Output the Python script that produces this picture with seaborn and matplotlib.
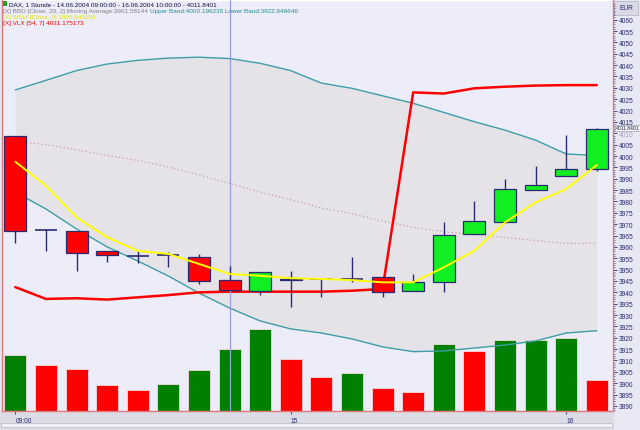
import numpy as np
import pandas as pd
import matplotlib
matplotlib.use("Agg")
import matplotlib.pyplot as plt
import seaborn as sns
from matplotlib.patches import Rectangle

# ---------------- data ----------------
idx = list(range(20))
opens = [4008.7, 3967.3, 3966.9, 3958.1, 3956.0, 3956.4, 3955.7, 3945.3, 3940.7, 3946.0,
         3945.9, 3945.9, 3946.6, 3940.5, 3944.7, 3965.5, 3971.0, 3985.2, 3991.1, 3994.2]
closes = [3966.9, 3967.5, 3957.3, 3956.3, 3956.0, 3956.4, 3944.9, 3940.9, 3948.8, 3945.6,
          3945.9, 3946.0, 3940.3, 3944.4, 3965.4, 3971.3, 3985.5, 3987.4, 3994.3, 4011.8]
highs = [4008.7, 3967.9, 3966.9, 3958.1, 3958.1, 3957.9, 3956.8, 3951.7, 3948.8, 3949.5,
         3946.0, 3955.7, 3946.6, 3948.1, 3971.1, 3980.2, 3989.8, 3995.6, 4009.3, 4012.5]
lows = [3961.6, 3958.1, 3949.5, 3953.2, 3952.9, 3951.3, 3943.8, 3940.9, 3939.0, 3933.4,
        3938.1, 3944.4, 3937.8, 3940.5, 3940.3, 3965.5, 3970.5, 3985.2, 3991.1, 3993.4]

upper_band = [4029.1, 4033.3, 4037.6, 4040.5, 4042.1, 4043.1, 4043.5, 4042.9, 4040.8, 4037.6,
              4032.1, 4029.8, 4026.5, 4023.2, 4019.2, 4015.1, 4011.4, 4007.0, 4000.9, 4000.2]
lower_band = [3984.1, 3976.7, 3967.9, 3960.0, 3953.8, 3947.2, 3939.7, 3933.1, 3927.4, 3923.9,
              3922.1, 3919.5, 3916.0, 3913.9, 3914.2, 3915.5, 3916.8, 3918.6, 3922.1, 3923.1]
middle_band = [4006.6, 4005.0, 4002.8, 4000.3, 3998.0, 3995.2, 3991.6, 3988.0, 3984.1, 3980.8,
               3977.1, 3974.7, 3971.3, 3968.6, 3966.7, 3965.3, 3964.1, 3962.8, 3961.5, 3961.6]
wma = [3997.5, 3986.9, 3973.0, 3964.2, 3958.3, 3956.9, 3952.5, 3948.1, 3947.3, 3946.2,
       3945.9, 3945.4, 3944.4, 3944.4, 3951.0, 3958.3, 3970.8, 3979.6, 3985.5, 3996.0]
vlx = [3942.3, 3937.1, 3937.4, 3936.8, 3937.8, 3938.8, 3940.0, 3940.3, 3940.3, 3940.3,
       3940.3, 3940.7, 3941.5, 4028.0, 4027.5, 4029.8, 4030.5, 4031.0, 4031.2, 4031.2]

volume = [5600, 4600, 4200, 2600, 2100, 2700, 4100, 6200, 8200, 5200,
          3400, 3800, 2300, 1900, 6700, 6000, 7100, 7100, 7300, 3100]
vol_dir = ["up", "down", "down", "down", "down", "up", "up", "up", "up", "down",
           "down", "up", "down", "down", "up", "down", "up", "up", "up", "down"]

price_ticks = list(range(3890, 4061, 5))
x_tick_pos = [0, 9, 18]
x_tick_labels = ["09:00", "15", "16"]
cursor_index = 7

title_line = "DAX, 1 Stunde - 14.06.2004 09:00:00 - 16.06.2004 10:00:00 - 4011.8401"
bbd_line_a = "[X] BBD [Close, 20, 2] Moving Average:3961.58144"
bbd_line_b = "Upper Band:4000.196235 Lower Band:3922.946646"
wma_line = "[X] WMA [Close, 5] 3995.943294"
vlx_line = "[X] VLX [54, 7] 4031.175173"
last_price_label = "4011.8401"
currency = "EUR"

# ---------------- styling ----------------
sns.set_theme(style="white")
plt.rcParams['font.family'] = ['Liberation Sans Narrow', 'Liberation Sans', 'DejaVu Sans']

W, H = 640, 431
fig = plt.figure(figsize=(W / 100, H / 100), dpi=100)
fig.patch.set_facecolor("#e8e8f4")

left_px, right_px, top_px, bot_px = 2, 613, 1, 412
rect = [left_px / W, 1 - bot_px / H, (right_px - left_px) / W, (bot_px - top_px) / H]

XLIM = (-0.435, 19.53)
YLIM = (3887.77, 4068.67)

BG = "#ededfa"
FILL = "#e5e3e8"
TEAL = "#3c9ea6"
NAVY = "#2a2a72"
BORDER = "#e07878"

# background axes: bands fill
ax_bg = fig.add_axes(rect)
ax_bg.set_facecolor(BG)
ax_bg.fill_between(idx, lower_band, upper_band, color=FILL, linewidth=0)
ax_bg.set_xlim(*XLIM)
ax_bg.set_ylim(*YLIM)
ax_bg.set_axis_off()
ax_bg.add_patch(Rectangle((0, 0), 1, 1, transform=ax_bg.transAxes, facecolor=BG, zorder=-5))

# volume axes
ax_vol = fig.add_axes(rect, sharex=ax_bg)
ax_vol.patch.set_alpha(0)
vol_df = pd.DataFrame({"i": idx, "volume": volume, "dir": vol_dir})
sns.barplot(data=vol_df, x="i", y="volume", hue="dir", native_scale=True, dodge=False,
            palette={"up": "#008000", "down": "#ff0000"}, width=0.72, legend=False,
            edgecolor="#f4d8e0", linewidth=0.6, saturation=1, ax=ax_vol)
ax_vol.set_xlim(*XLIM)
ax_vol.set_ylim(0, 41100)
ax_vol.set_axis_off()

# price axes
ax = fig.add_axes(rect)
ax.patch.set_alpha(0)
sns.lineplot(x=idx, y=upper_band, ax=ax, color=TEAL, linewidth=1.0)
sns.lineplot(x=idx, y=lower_band, ax=ax, color=TEAL, linewidth=1.0)
sns.lineplot(x=idx, y=middle_band, ax=ax, color="#c89ca6", linewidth=0.9, linestyle=(0, (1, 2)))
sns.lineplot(x=idx, y=vlx, ax=ax, color="#ff0000", linewidth=1.8)
ax.axvline(cursor_index, color="#9a9aee", linewidth=0.9, zorder=2)

body_w = 0.72
for i, o, c, h, l in zip(idx, opens, closes, highs, lows):
    ax.vlines(i, l, h, color=NAVY, linewidth=1.0, zorder=3)
    if abs(c - o) < 0.3:
        ax.hlines(o, i - body_w / 2, i + body_w / 2, color=NAVY, linewidth=1.2, zorder=4)
    else:
        col = "#11ee22" if c > o else "#ff0000"
        ax.bar(i, c - o, bottom=o, width=body_w, color=col, edgecolor=NAVY,
               linewidth=0.9, zorder=4)

sns.lineplot(x=idx, y=wma, ax=ax, color="#ffff00", linewidth=1.4, zorder=5)

ax.set_xlim(*XLIM)
ax.set_ylim(*YLIM)
ax.set_xlabel("")
ax.set_ylabel("")
ax.yaxis.tick_right()
ax.set_yticks(price_ticks)
ax.set_yticklabels([str(t) for t in price_ticks])
ax.set_yticks(range(3888, 4068), minor=True)
ax.tick_params(axis="y", which="major", length=3, width=0.6, color=NAVY,
               labelsize=4.8, labelcolor=NAVY, pad=1.5, right=True, left=False)
ax.tick_params(axis="y", which="minor", length=1.2, width=0.4, color=NAVY, right=True, left=False)
ax.set_xticks(x_tick_pos)
ax.set_xticklabels(x_tick_labels)
for lab in ax.get_xticklabels():
    lab.set_horizontalalignment("left")
ax.tick_params(axis="x", which="major", length=2.5, width=0.6, color=NAVY,
               labelsize=4.8, labelcolor=NAVY, pad=1.5, bottom=True)
for side in ["left", "right", "bottom"]:
    ax.spines[side].set_visible(True)
    ax.spines[side].set_color(BORDER)
    ax.spines[side].set_linewidth(1.0)
ax.spines["top"].set_visible(False)
ax.grid(False)

# the 4010 tick label sits partly under the last-price box in the reference
for lab in ax.get_yticklabels():
    if lab.get_text() == "4010":
        lab.set_alpha(0.35)

# bottom strips
fig.patches.append(Rectangle((0, 0), (right_px + 1) / W, (H - bot_px) / H, transform=fig.transFigure,
                             facecolor="#dcdce6", edgecolor="none", zorder=-10))
fig.patches.append(Rectangle((1 / W, (H - 428) / H), 611 / W, 4 / H, transform=fig.transFigure,
                             facecolor="#f0f0f4", edgecolor="#b8b8c4", linewidth=0.5, zorder=-9))

# EUR box
fig.patches.append(Rectangle((614 / W, 1 - 16 / H), 24 / W, 14 / H, transform=fig.transFigure,
                             facecolor="#dadae6", edgecolor="#b0b0c0", linewidth=0.5, zorder=-8))
fig.text(626 / W, 1 - 9 / H, currency, fontsize=4.8, color=NAVY, ha="center", va="center")

# last price label
fig.text(615.5 / W, 1 - 129 / H, last_price_label, fontsize=3.6, color="#202040", ha="left",
         va="center", bbox=dict(boxstyle="square,pad=0.1", facecolor="#f4f4f8",
                                edgecolor="#9090a0", linewidth=0.4), zorder=10)

# legend lines
fs = 4.6
fig.patches.append(Rectangle((3 / W, 1 - 7 / H), 4 / W, 5 / H, transform=fig.transFigure,
                             facecolor="#20a020", edgecolor="none"))
fig.text(9 / W, 1 - 4.5 / H, title_line, fontsize=fs, color="#101040", ha="left", va="center")
t_a = fig.text(3 / W, 1 - 11 / H, bbd_line_a, fontsize=fs, color="#808088", ha="left", va="center")
renderer = fig.canvas.get_renderer()
bb = t_a.get_window_extent(renderer=renderer)
fig.text((bb.x1 + 2) / W, 1 - 11 / H, bbd_line_b, fontsize=fs, color="#208c90",
         ha="left", va="center")
fig.text(3 / W, 1 - 17.5 / H, wma_line, fontsize=fs, color="#e8e800", ha="left", va="center")
fig.text(3 / W, 1 - 24 / H, vlx_line, fontsize=fs, color="#ff0000", ha="left", va="center")

fig.savefig("out.png", dpi=100, facecolor=fig.get_facecolor())
